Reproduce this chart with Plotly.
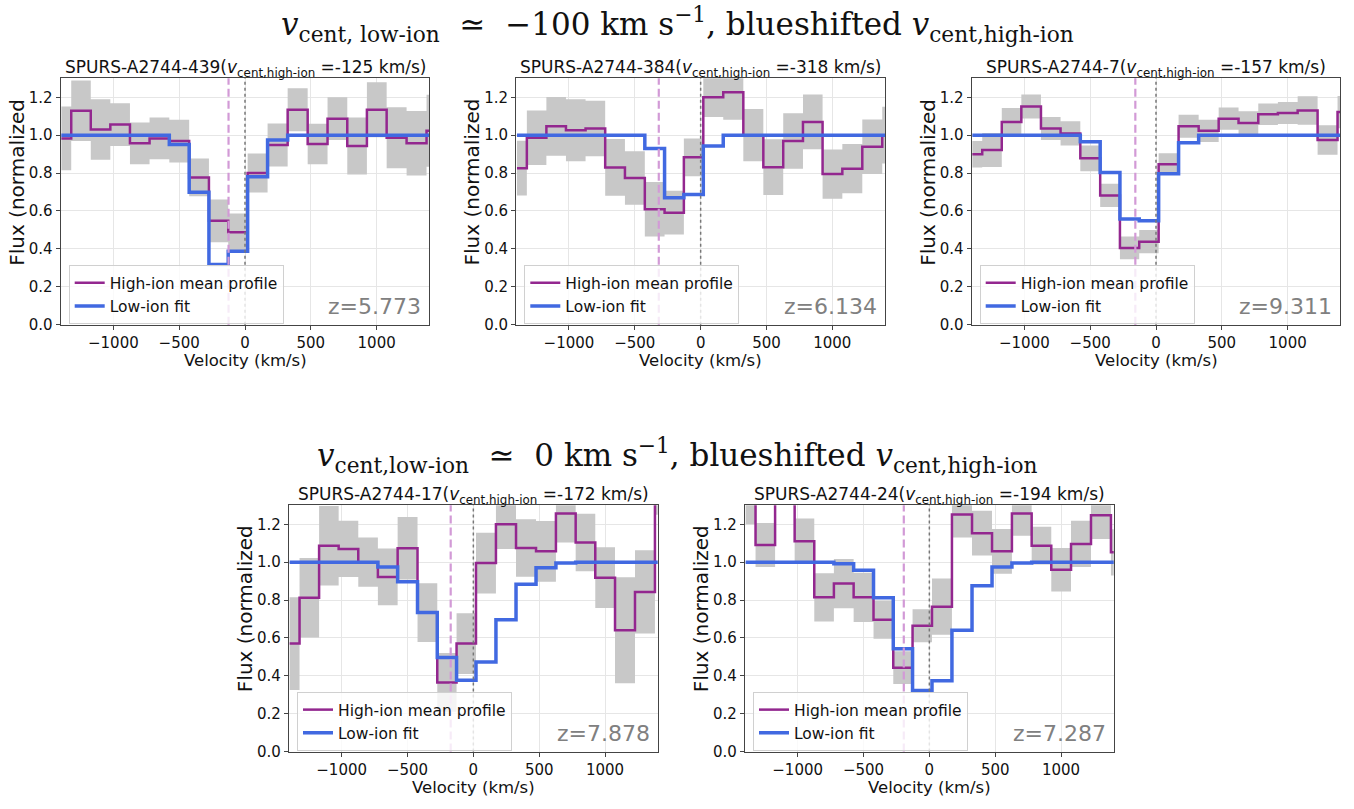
import plotly.graph_objects as go

W, H = 1354, 809

# ---------------- data ----------------
velocity = [-1395, -1245, -1098, -948, -800, -650, -500, -348, -200, -55,
            95, 248, 400, 552, 702, 852, 1000, 1152, 1303, 1455]

names = ["SPURS-A2744-439", "SPURS-A2744-384", "SPURS-A2744-7",
         "SPURS-A2744-17", "SPURS-A2744-24"]
vcent_high = [-125, -318, -157, -172, -194]
redshift = ["5.773", "6.134", "9.311", "7.878", "7.287"]

flux_439 = [0.983, 1.129, 1.03, 1.056, 0.957, 0.983, 0.969, 0.777, 0.548, 0.487,
            0.80, 0.948, 1.134, 0.953, 1.087, 0.943, 1.134, 0.986, 0.957, 1.023]
err_439 = [0.168, 0.16, 0.16, 0.113, 0.11, 0.11, 0.113, 0.10, 0.113, 0.10,
           0.103, 0.113, 0.113, 0.107, 0.113, 0.15, 0.145, 0.161, 0.17, 0.19]
fit_439 = [1, 1, 1, 1, 1, 1, 0.951, 0.699, 0.317, 0.388,
           0.781, 0.974, 1, 1, 1, 1, 1, 1, 1, 1]

flux_384 = [0.826, 0.986, 1.047, 1.026, 1.035, 0.83, 0.774, 0.609, 0.591, 0.883,
            1.2, 1.226, 1.0, 0.831, 0.969, 1.07, 0.795, 0.823, 0.939, 1.0]
err_384 = [0.144, 0.144, 0.155, 0.164, 0.146, 0.15, 0.141, 0.144, 0.115, 0.10,
           0.104, 0.144, 0.138, 0.147, 0.146, 0.144, 0.13, 0.13, 0.144, 0.15]
fit_384 = [1, 1, 1, 1, 1, 1, 1, 0.93, 0.67, 0.687,
           0.943, 1, 1, 1, 1, 1, 1, 1, 1, 1]

flux_7 = [0.899, 0.922, 1.07, 1.151, 1.035, 1.009, 0.878, 0.682, 0.405, 0.438,
          0.847, 1.047, 1.023, 1.087, 1.064, 1.11, 1.117, 1.13, 0.974, 1.122]
err_7 = [0.07, 0.09, 0.074, 0.063, 0.061, 0.064, 0.068, 0.061, 0.06, 0.061,
         0.057, 0.061, 0.059, 0.059, 0.062, 0.057, 0.058, 0.075, 0.078, 0.085]
fit_7 = [1, 1, 1, 1, 1, 1, 0.965, 0.803, 0.557, 0.548,
         0.797, 0.96, 1, 1, 1, 1, 1, 1, 1, 1]

flux_17 = [0.57, 0.812, 1.087, 1.07, 1.0, 0.922, 1.073, 0.734, 0.365, 0.57,
           0.995, 1.2, 1.075, 1.057, 1.257, 1.104, 0.918, 0.64, 0.843, 1.45]
err_17 = [0.245, 0.21, 0.21, 0.148, 0.13, 0.15, 0.165, 0.155, 0.155, 0.16,
          0.16, 0.13, 0.152, 0.16, 0.153, 0.152, 0.16, 0.28, 0.22, 0.2]
fit_17 = [1, 1, 1, 1, 1, 0.974, 0.896, 0.734, 0.496, 0.377,
          0.473, 0.696, 0.883, 0.97, 0.995, 1, 1, 1, 1, 1]

flux_24 = [1.4, 1.09, 1.45, 1.11, 0.814, 0.887, 0.814, 0.696, 0.443, 0.664,
           0.765, 1.252, 1.153, 1.057, 1.257, 1.087, 0.96, 1.096, 1.247, 1.052]
err_24 = [0.2, 0.116, 0.12, 0.12, 0.128, 0.13, 0.13, 0.10, 0.087, 0.087,
          0.148, 0.122, 0.118, 0.118, 0.118, 0.10, 0.115, 0.122, 0.125, 0.122]
fit_24 = [1, 1, 1, 1, 1, 0.991, 0.957, 0.812, 0.543, 0.322,
          0.374, 0.64, 0.875, 0.974, 0.995, 1, 1, 1, 1, 1]

fluxes = [flux_439, flux_384, flux_7, flux_17, flux_24]
errs = [err_439, err_384, err_7, err_17, err_24]
fits = [fit_439, fit_384, fit_7, fit_17, fit_24]

x_ticks = [-1000, -500, 0, 500, 1000]
y_ticks = [0.0, 0.2, 0.4, 0.6, 0.8, 1.0, 1.2]

suptitles = [
    "<i>v</i><sub>cent, low-ion</sub>  \u2243  \u2212100 km s<sup>\u22121</sup>, blueshifted <i>v</i><sub>cent,high-ion</sub>",
    "<i>v</i><sub>cent,low-ion</sub>  \u2243  0 km s<sup>\u22121</sup>, blueshifted <i>v</i><sub>cent,high-ion</sub>",
]

# ---------------- styling / layout ----------------
PURPLE = "#93278f"
BLUE = "#4169e1"
BAND = "#c8c8c8"
DASH = "#d29ad6"
FRAME = "#444444"

# pixel boxes: left, right, top, bottom
boxes = [(60.7, 429.3, 79.2, 328.3), (516.3, 885.0, 79.2, 328.3),
         (971.7, 1340.3, 79.2, 328.3), (289.0, 657.7, 511.0, 760.0),
         (745.0, 1113.7, 511.0, 760.0)]

fig = go.Figure()
layout = dict(
    width=W, height=H, margin=dict(l=0, r=0, t=0, b=0),
    paper_bgcolor="white", plot_bgcolor="white",
    font=dict(family="DejaVu Sans", size=15, color="#111111"),
    showlegend=True,
)
annotations = []
shapes = []

for i in range(5):
    k = i + 1
    xa = "x" if k == 1 else f"x{k}"
    ya = "y" if k == 1 else f"y{k}"
    lg = "legend" if k == 1 else f"legend{k}"
    l, r, t, b = boxes[i]
    f, e, m = fluxes[i], errs[i], fits[i]
    lower = [fv - ev for fv, ev in zip(f, e)]
    upper = [fv + ev for fv, ev in zip(f, e)]

    fig.add_trace(go.Scatter(x=velocity, y=lower, xaxis=xa, yaxis=ya, mode="lines",
                             line=dict(width=0, shape="hvh", color=BAND),
                             showlegend=False, hoverinfo="skip", legend=lg))
    fig.add_trace(go.Scatter(x=velocity, y=upper, xaxis=xa, yaxis=ya, mode="lines",
                             line=dict(width=0, shape="hvh", color=BAND),
                             fill="tonexty", fillcolor=BAND,
                             showlegend=False, hoverinfo="skip", legend=lg))
    fig.add_trace(go.Scatter(x=velocity, y=f, xaxis=xa, yaxis=ya, mode="lines",
                             line=dict(width=2.5, shape="hvh", color=PURPLE),
                             name="High-ion mean profile", legend=lg))
    fig.add_trace(go.Scatter(x=velocity, y=m, xaxis=xa, yaxis=ya, mode="lines",
                             line=dict(width=3.5, shape="hvh", color=BLUE),
                             name="Low-ion fit", legend=lg))

    axkey = "xaxis" if k == 1 else f"xaxis{k}"
    aykey = "yaxis" if k == 1 else f"yaxis{k}"
    layout[axkey] = dict(
        domain=[l / W, r / W], anchor=ya, range=[-1400, 1400],
        tickvals=x_ticks, ticks="outside", ticklen=4, tickwidth=1, tickcolor=FRAME,
        showline=True, linecolor=FRAME, linewidth=1.3, mirror=True,
        showgrid=True, gridcolor="#e6e6e6", gridwidth=1, zeroline=False,
        tickfont=dict(size=15, color="#111111"),
    )
    layout[aykey] = dict(
        domain=[1 - b / H, 1 - t / H], anchor=xa, range=[0, 1.3],
        tickvals=y_ticks, tickformat=".1f", ticks="outside", ticklen=4, tickwidth=1,
        tickcolor=FRAME, showline=True, linecolor=FRAME, linewidth=1.3, mirror=True,
        showgrid=True, gridcolor="#e6e6e6", gridwidth=1, zeroline=False,
        tickfont=dict(size=15, color="#111111"),
    )
    layout[lg] = dict(
        x=(l + 8) / W, y=1 - (b - 0.5) / H, xanchor="left", yanchor="bottom",
        bgcolor="rgba(255,255,255,0.8)", bordercolor="#d0d0d0", borderwidth=1,
        font=dict(size=15.5, color="#111111"), tracegroupgap=0, traceorder="normal",
    )

    # vertical reference lines
    shapes.append(dict(type="line", xref=xa, yref=f"{ya} domain",
                       x0=vcent_high[i], x1=vcent_high[i], y0=0, y1=1,
                       line=dict(color=DASH, width=2.2, dash="8px,4px")))
    shapes.append(dict(type="line", xref=xa, yref=f"{ya} domain",
                       x0=0, x1=0, y0=0, y1=1,
                       line=dict(color="#777777", width=1.5, dash="dot")))

    cx = (l + r) / 2 / W
    # subplot title
    annotations.append(dict(
        x=cx, y=1 - t / H, xref="paper", yref="paper", xanchor="center", yanchor="bottom",
        yshift=-4, showarrow=False,
        text=f"{names[i]}(<i>v</i><sub>cent,high-ion</sub> =-{abs(vcent_high[i])} km/s)",
        font=dict(size=17, color="#111111")))
    # x label
    annotations.append(dict(
        x=cx, y=1 - (b + 36) / H, xref="paper", yref="paper", xanchor="center",
        yanchor="middle", showarrow=False, text="Velocity (km/s)",
        font=dict(size=16.5, color="#111111")))
    # y label
    annotations.append(dict(
        x=(l - 44) / W, y=1 - (t + 105) / H, xref="paper", yref="paper",
        xanchor="center", yanchor="middle", showarrow=False, textangle=-90,
        text="Flux (normalized", font=dict(size=20, color="#111111")))
    # redshift label
    annotations.append(dict(
        x=(r - 6) / W, y=1 - (b - 4) / H, xref="paper", yref="paper",
        xanchor="right", yanchor="bottom", showarrow=False,
        text=f"z={redshift[i]}", font=dict(size=22, color="#808080")))

# suptitles
for txt, ypx in zip(suptitles, [25, 461]):
    annotations.append(dict(
        x=0.5, y=1 - ypx / H, xref="paper", yref="paper", xanchor="center",
        yanchor="middle", showarrow=False, text=txt,
        font=dict(family="DejaVu Serif", size=31, color="#111111")))

layout["annotations"] = annotations
layout["shapes"] = shapes
fig.update_layout(**layout)

fig.write_html("out.html")
